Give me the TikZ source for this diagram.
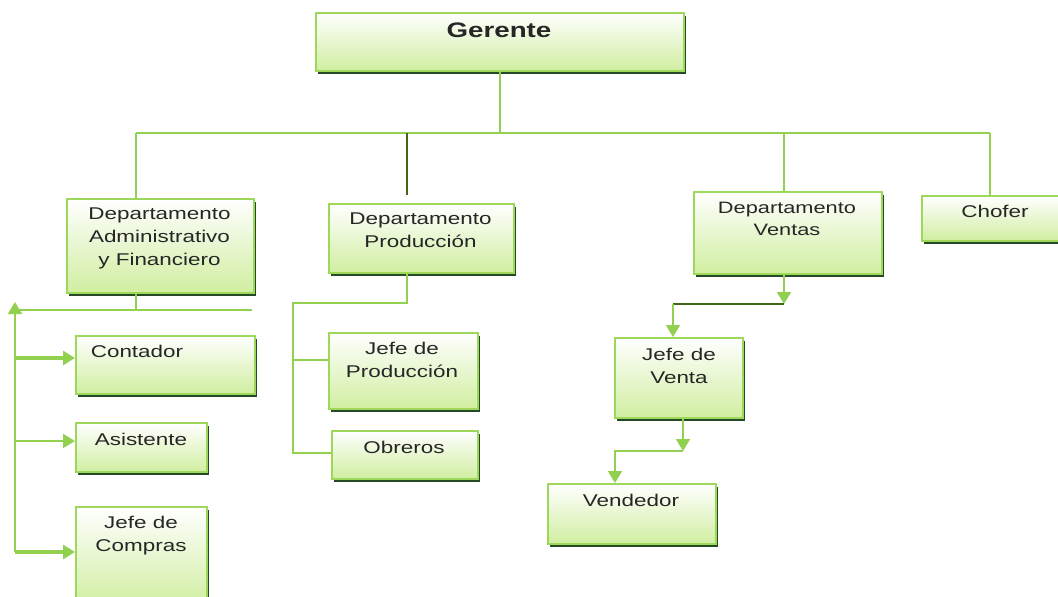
\documentclass[tikz,border=0pt]{standalone}
\usepackage{fontspec}
\setmainfont{Liberation Sans}[FakeStretch=1.32]
\usetikzlibrary{arrows.meta,shadows}
\definecolor{lgreen}{RGB}{146,208,80}
\definecolor{bgreen}{RGB}{158,216,90}
\definecolor{fgreen}{RGB}{208,238,160}
\definecolor{dgreen}{RGB}{62,104,22}
\tikzset{
  box/.style={draw=bgreen, line width=2pt, top color=white, bottom color=fgreen,
    middle color=white!50!fgreen, inner sep=0pt, anchor=north west,
    drop shadow={shadow xshift=2pt, shadow yshift=-2.5pt, fill=black!60!green!40!black, opacity=0.85}},
  txt/.style={font=\fontsize{17}{23}\selectfont, align=center, text=black!85, inner sep=0pt},
  conn/.style={draw=lgreen, line width=1.8pt},
  thick conn/.style={draw=lgreen, line width=3.2pt},
  dconn/.style={draw=dgreen, line width=1.8pt},
  tip/.style={-{Triangle[width=14pt,length=12pt]}},
}
\begin{document}
\begin{tikzpicture}[x=1pt,y=-1pt]
\useasboundingbox (0,0) rectangle (1058,597);
% boxes
\node[box, minimum width=368pt, minimum height=58pt] (ger) at (315,12) {};
\node[txt, font=\fontsize{21}{24}\selectfont\bfseries] (gerT) at (499,30) {Gerente};
\node[box, minimum width=187pt, minimum height=94pt] (adm) at (66,198) {};
\node[txt, anchor=north] (admT) at (159.5,208) {Departamento\\Administrativo\\y Financiero};
\node[box, minimum width=185pt, minimum height=69pt] (pro) at (328,203) {};
\node[txt, anchor=north] (proT) at (420.5,213) {Departamento\\Producción};
\node[box, minimum width=188pt, minimum height=82pt] (ven) at (693,191) {};
\node[txt, anchor=north, font=\fontsize{16.5}{22}\selectfont] (venT) at (787,202) {Departamento\\Ventas};
\node[box, minimum width=145pt, minimum height=45pt] (cho) at (921,195) {};
\node[txt] (choT) at (995,211) {Chofer};
\node[box, minimum width=179pt, minimum height=58pt] (con) at (75,335) {};
\node[txt] (conT) at (137,351) {Contador};
\node[box, minimum width=131pt, minimum height=49pt] (asi) at (75,422) {};
\node[txt] (asiT) at (141,439) {Asistente};
\node[box, minimum width=131pt, minimum height=100pt] (com) at (75,506) {};
\node[txt, anchor=north] (comT) at (141,516) {Jefe de\\Compras};
\node[box, minimum width=149pt, minimum height=76pt] (jpr) at (328,332) {};
\node[txt, anchor=north] (jprT) at (402,342) {Jefe de\\Producción};
\node[box, minimum width=146pt, minimum height=48pt] (obr) at (331,430) {};
\node[txt] (obrT) at (404,447) {Obreros};
\node[box, minimum width=128pt, minimum height=80pt] (jve) at (614,337) {};
\node[txt, anchor=north] (jveT) at (679,348) {Jefe de\\Venta};
\node[box, minimum width=168pt, minimum height=60pt] (vnd) at (547,483) {};
\node[txt] (vndT) at (631,500) {Vendedor};
% coordinates
\coordinate (g1) at (500,133);
\coordinate (hl) at (136,133);
\coordinate (hr) at (990,133);
\coordinate (a1) at (136,310);
\coordinate (aL) at (15,310);
\coordinate (aR) at (252,310);
\coordinate (aUp) at (15,302);
\coordinate (aB) at (15,552);
\coordinate (p1) at (407,303);
\coordinate (pL) at (293,303);
\coordinate (pB) at (293,453);
\coordinate (v1) at (784,304);
\coordinate (v2) at (673,304);
\coordinate (j1) at (683,451);
\coordinate (j2) at (615,451);
% top tree
\draw[conn] (ger.south -| g1) -- (g1);
\draw[conn] (hl) -- (hr);
\draw[conn] (hl) -- (adm.north -| hl);
\draw[dconn] (407,133) -- (407,195);
\draw[conn] (784,133) -- (ven.north -| v1);
\draw[conn] (hr) -- (cho.north -| hr);
% admin branch
\draw[conn] (adm.south -| a1) -- (a1);
\draw[conn, line width=1.4pt] (aL) -- (aR);
\draw[conn, tip] (15,340) -- (aUp);
\draw[conn] (15,340) -- (aB);
\draw[thick conn, tip] (15,358) -- (con.west |- 15,358);
\draw[conn, tip] (15,441) -- (asi.west |- 15,441);
\draw[thick conn, tip] (aB) -- (com.west |- aB);
% production branch
\draw[conn] (pro.south -| p1) -- (p1) -- (pL) -- (pB) -- (obr.west |- pB);
\draw[conn] (293,360) -- (jpr.west |- 293,360);
% sales branch
\draw[conn, tip] (ven.south -| v1) -- (v1);
\draw[dconn] (v1) -- (v2);
\draw[conn, tip] (v2) -- (jve.north -| v2);
\draw[conn, tip] (jve.south -| j1) -- (j1);
\draw[conn, tip] (j1) -- (j2) -- (vnd.north -| j2);
\end{tikzpicture}
\end{document}
